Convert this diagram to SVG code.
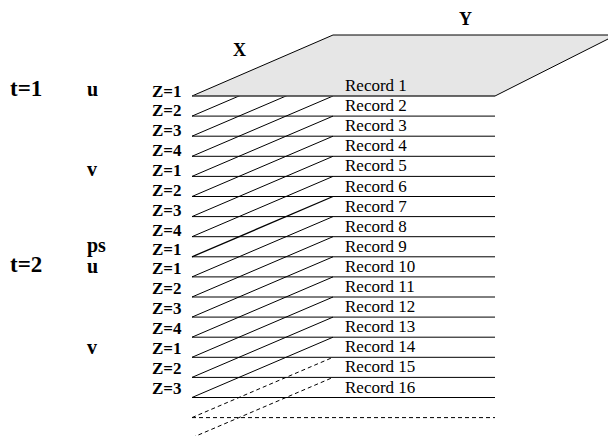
<svg xmlns="http://www.w3.org/2000/svg" width="608" height="436" viewBox="0 0 608 436">
<style>
.b{font-family:"Liberation Serif","Times New Roman",serif;font-weight:bold;fill:#000}
.r{font-family:"Liberation Serif","Times New Roman",serif;font-size:17px;fill:#000}
.z{font-size:17px}
.ln{stroke:#000;stroke-width:1;fill:none}
.d{stroke:#000;stroke-width:1;fill:none;stroke-dasharray:4 3}
</style>
<rect width="608" height="436" fill="#fff"/>
<g id="connectors">
<g id="diagonals" class="ln">
<line x1="192" y1="116.1" x2="333" y2="55.8"/>
<line x1="192" y1="136.2" x2="333" y2="75.9"/>
<line x1="192" y1="156.3" x2="333" y2="96"/>
<line x1="192" y1="176.4" x2="333" y2="116.1"/>
<line x1="192" y1="196.5" x2="333" y2="136.2"/>
<line x1="192" y1="216.6" x2="333" y2="156.3"/>
<line x1="192" y1="236.7" x2="333" y2="176.4"/>
<line x1="192" y1="256.8" x2="333" y2="196.5" stroke-width="1.3"/>
<line x1="192" y1="276.9" x2="333" y2="216.6"/>
<line x1="192" y1="297" x2="333" y2="236.7"/>
<line x1="192" y1="317.1" x2="333" y2="256.8"/>
<line x1="192" y1="337.2" x2="333" y2="276.9"/>
<line x1="192" y1="357.3" x2="333" y2="297"/>
<line x1="192" y1="377.4" x2="333" y2="317.1"/>
<line x1="192" y1="397.5" x2="333" y2="337.2"/>
</g>
<g id="dashed" class="d">
<line x1="192" y1="417.6" x2="333" y2="357.3"/>
<line x1="192" y1="437.7" x2="333" y2="377.4"/>
<line x1="192" y1="417.6" x2="495" y2="417.6"/>
</g>
<g id="layers" class="ln">
<line x1="192" y1="116.1" x2="495" y2="116.1"/>
<line x1="192" y1="136.2" x2="495" y2="136.2"/>
<line x1="192" y1="156.3" x2="495" y2="156.3"/>
<line x1="192" y1="176.4" x2="495" y2="176.4"/>
<line x1="192" y1="196.5" x2="495" y2="196.5"/>
<line x1="192" y1="216.6" x2="495" y2="216.6"/>
<line x1="192" y1="236.7" x2="495" y2="236.7"/>
<line x1="192" y1="256.8" x2="495" y2="256.8"/>
<line x1="192" y1="276.9" x2="495" y2="276.9"/>
<line x1="192" y1="297" x2="495" y2="297"/>
<line x1="192" y1="317.1" x2="495" y2="317.1"/>
<line x1="192" y1="337.2" x2="495" y2="337.2"/>
<line x1="192" y1="357.3" x2="495" y2="357.3"/>
<line x1="192" y1="377.4" x2="495" y2="377.4"/>
<line x1="192" y1="397.5" x2="495" y2="397.5"/>
</g>
</g>
<g id="plane">
<polygon points="192,96 333,35 616,35 495,96" fill="#e6e6e6" stroke="#000" stroke-width="1"/>
<line x1="192" y1="96" x2="495" y2="96" stroke="#555" stroke-width="1.2"/>
</g>
<g id="axes" class="b" font-size="18">
<text x="233" y="56">X</text>
<text x="459" y="25">Y</text>
</g>
<g id="records" class="r">
<text x="345" y="91">Record 1</text>
<text x="345" y="111.1">Record 2</text>
<text x="345" y="131.2">Record 3</text>
<text x="345" y="151.3">Record 4</text>
<text x="345" y="171.4">Record 5</text>
<text x="345" y="191.5">Record 6</text>
<text x="345" y="211.6">Record 7</text>
<text x="345" y="231.7">Record 8</text>
<text x="345" y="251.8">Record 9</text>
<text x="345" y="271.9">Record 10</text>
<text x="345" y="292">Record 11</text>
<text x="345" y="312.1">Record 12</text>
<text x="345" y="332.2">Record 13</text>
<text x="345" y="352.3">Record 14</text>
<text x="345" y="372.4">Record 15</text>
<text x="345" y="392.5">Record 16</text>
</g>
<g id="levels" class="b z">
<text x="152" y="97">Z=1</text>
<text x="152" y="116">Z=2</text>
<text x="152" y="136">Z=3</text>
<text x="152" y="156">Z=4</text>
<text x="152" y="176">Z=1</text>
<text x="152" y="196">Z=2</text>
<text x="152" y="216">Z=3</text>
<text x="152" y="236">Z=4</text>
<text x="152" y="255">Z=1</text>
<text x="152" y="274">Z=1</text>
<text x="152" y="294">Z=2</text>
<text x="152" y="314">Z=3</text>
<text x="152" y="334">Z=4</text>
<text x="152" y="354">Z=1</text>
<text x="152" y="374">Z=2</text>
<text x="152" y="394">Z=3</text>
</g>
<g id="variables" class="b" font-size="20">
<text x="87" y="96">u</text>
<text x="87" y="176">v</text>
<text x="87" y="252">ps</text>
<text x="87" y="273">u</text>
<text x="87" y="354">v</text>
</g>
<g id="times" class="b" font-size="23">
<text x="10" y="96">t=1</text>
<text x="10" y="272">t=2</text>
</g>
</svg>
